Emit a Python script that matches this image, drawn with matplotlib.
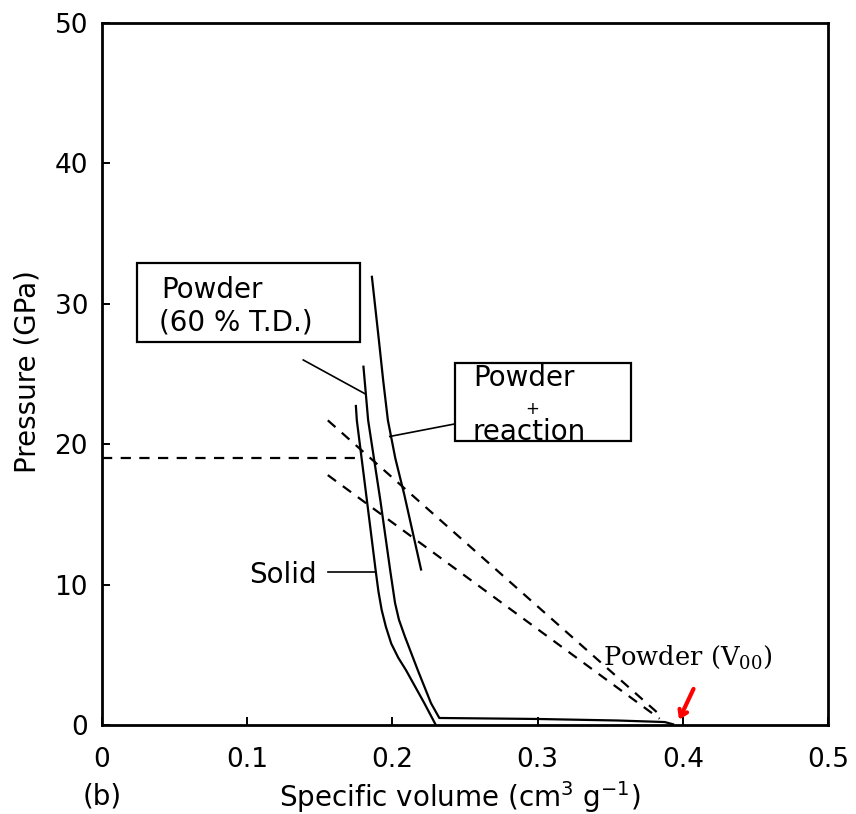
import matplotlib
matplotlib.use("Agg")
import matplotlib.pyplot as plt
from matplotlib.patches import Rectangle

# Hugoniot curves: specific volume (cm^3/g) vs pressure (GPa)
solid_v = [0.1748, 0.1755, 0.1822, 0.1886, 0.1904, 0.1926, 0.1955, 0.1992, 0.2040,
           0.2094, 0.2220, 0.2299]
solid_p = [22.8, 21.7, 16.2, 10.9, 9.5, 8.2, 7.0, 5.8, 4.8,
           3.9, 1.55, 0.0]

powder_v = [0.1800, 0.1833, 0.1917, 0.1985, 0.2018, 0.2045, 0.2086, 0.2175, 0.2266,
            0.2323, 0.2993, 0.3552, 0.3876, 0.3940]
powder_p = [25.6, 21.7, 16.0, 11.0, 8.7, 7.5, 6.3, 3.9, 1.55,
            0.5, 0.43, 0.32, 0.21, 0.03]

reaction_v = [0.1858, 0.1907, 0.1937, 0.1969, 0.2020, 0.2082, 0.2199]
reaction_p = [32.0, 27.4, 24.5, 21.7, 19.0, 16.4, 11.0]

# Rayleigh lines and the 19 GPa level
ray_upper_v = [0.1555, 0.385]
ray_upper_p = [21.7, 0.65]
ray_lower_v = [0.1555, 0.384]
ray_lower_p = [17.8, 0.45]
level_v = [0.0, 0.178]
level_p = [19.0, 19.0]

xticks = [0, 0.1, 0.2, 0.3, 0.4, 0.5]
xticklabels = ["0", "0.1", "0.2", "0.3", "0.4", "0.5"]
yticks = [0, 10, 20, 30, 40, 50]

FS = 20

fig = plt.figure(figsize=(8.56, 8.14), dpi=100)
ax = fig.add_axes([102 / 856, 1 - 725 / 814, (828 - 102) / 856, (725 - 23) / 814])
ax.set_xlim(0, 0.5)
ax.set_ylim(0, 50)

curve_kw = dict(color="black", lw=1.6, solid_capstyle="butt", solid_joinstyle="round")
ax.plot(solid_v, solid_p, **curve_kw)
ax.plot(powder_v, powder_p, **curve_kw)
ax.plot(reaction_v, reaction_p, **curve_kw)

dash_kw = dict(color="black", lw=1.6, linestyle=(0, (4.6, 3.8)))
ax.plot(ray_upper_v, ray_upper_p, **dash_kw)
ax.plot(ray_lower_v, ray_lower_p, **dash_kw)
ax.plot(level_v, level_p, **dash_kw)

# axes styling
for sp in ax.spines.values():
    sp.set_linewidth(2.0)
ax.set_xticks(xticks)
ax.set_xticklabels(xticklabels)
ax.set_yticks(yticks)
ax.tick_params(direction="in", length=6, width=1.4, labelsize=19,
               top=False, right=False)
ax.tick_params(axis="x", pad=16)
ax.tick_params(axis="y", pad=10)

# labelled boxes
box_kw = dict(fill=False, edgecolor="black", lw=1.6)
ax.add_patch(Rectangle((0.0239, 27.26), 0.1774 - 0.0239, 32.88 - 27.26, **box_kw))
ax.text(0.041, 30.95, "Powder", fontsize=FS, va="center", ha="left")
ax.text(0.039, 28.65, "(60 % T.D.)", fontsize=FS, va="center", ha="left")
ax.plot([0.1386, 0.181], [26.0, 23.6], color="black", lw=1.2)

ax.add_patch(Rectangle((0.2428, 20.25), 0.3641 - 0.2428, 25.75 - 20.25, **box_kw))
ax.text(0.2554, 24.7, "Powder", fontsize=FS, va="center", ha="left")
ax.text(0.2966, 22.5, "+", fontsize=12, va="center", ha="center")
ax.text(0.2554, 20.33, "reaction", fontsize=FS, va="baseline", ha="left")
ax.plot([0.2423, 0.1982], [21.43, 20.55], color="black", lw=1.2)

ax.text(0.1476, 10.7, "Solid", fontsize=FS, va="center", ha="right")
ax.plot([0.1554, 0.1890], [10.92, 10.92], color="black", lw=1.2)

# initial powder volume marker
ax.text(0.345, 4.85, r"Powder (V$_{00}$)", fontsize=18.5, va="center", ha="left",
        family="DejaVu Serif", math_fontfamily="dejavuserif")
ax.annotate("", xy=(0.3966, 0.2), xytext=(0.4082, 2.75),
            arrowprops=dict(arrowstyle="->,head_length=0.45,head_width=0.3",
                            color="#ff0000", lw=3.0))

fig.text(28 / 856, 1 - 372 / 814, "Pressure (GPa)", rotation=90, fontsize=FS,
         ha="center", va="center")
fig.text(460 / 856, 1 - 797 / 814, r"Specific volume (cm$^{3}$ g$^{-1}$)",
         fontsize=FS, ha="center", va="center")
fig.text(83 / 856, 1 - 797 / 814, "(b)", fontsize=FS, ha="left", va="center")

fig.savefig("out.png", dpi=100)
